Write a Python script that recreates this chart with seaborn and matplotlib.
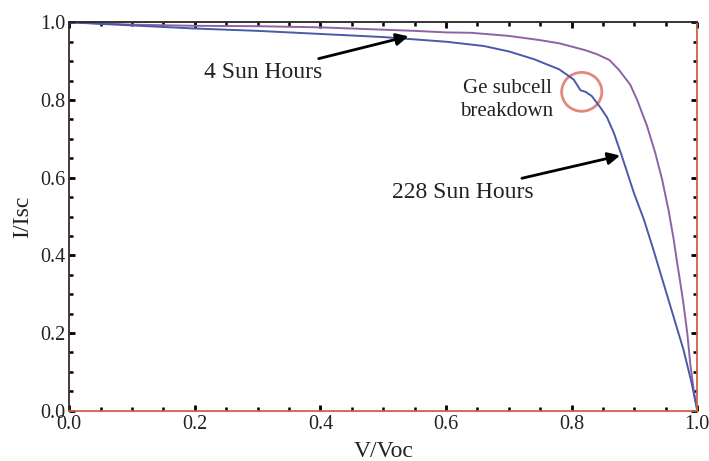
import matplotlib
matplotlib.use("Agg")
import matplotlib.pyplot as plt
from matplotlib.patches import Ellipse
from matplotlib.ticker import MultipleLocator
import seaborn as sns
import numpy as np
import pandas as pd

# I-V curves (normalised)
v_4h = [0.0, 0.05, 0.10, 0.20, 0.30, 0.40, 0.45, 0.50, 0.55, 0.60, 0.64, 0.70,
        0.75, 0.78, 0.82, 0.84, 0.86, 0.875, 0.893, 0.904, 0.92, 0.933, 0.944,
        0.954, 0.962, 0.968, 0.973, 0.978, 0.984, 0.989, 0.995, 1.0]
i_4h = [1.000, 0.997, 0.994, 0.991, 0.990, 0.987, 0.984, 0.981, 0.978, 0.974,
        0.973, 0.965, 0.954, 0.946, 0.929, 0.918, 0.903, 0.878, 0.840, 0.801,
        0.733, 0.664, 0.595, 0.518, 0.445, 0.380, 0.329, 0.275, 0.200, 0.118,
        0.045, 0.0]

v_228h = [0.0, 0.05, 0.10, 0.20, 0.30, 0.40, 0.45, 0.50, 0.55, 0.60, 0.66,
          0.70, 0.74, 0.78, 0.803, 0.814, 0.822, 0.832, 0.846, 0.856, 0.867,
          0.880, 0.899, 0.915, 0.93, 0.946, 0.962, 0.978, 0.991, 1.0]
i_228h = [1.000, 0.996, 0.992, 0.984, 0.978, 0.970, 0.966, 0.962, 0.956, 0.950,
          0.939, 0.925, 0.905, 0.879, 0.853, 0.825, 0.821, 0.810, 0.780, 0.756,
          0.716, 0.655, 0.561, 0.492, 0.415, 0.329, 0.243, 0.157, 0.071, 0.0]

sns.set_style("ticks")
plt.rcParams['font.family'] = ['Liberation Serif', 'DejaVu Serif']

fig = plt.figure(figsize=(7.09, 4.61), dpi=100)
ax = fig.add_axes([0.0977, 0.1091, 0.9835 - 0.0977, 0.9516 - 0.1091])

df4 = pd.DataFrame({'V': v_4h, 'I': i_4h})
df228 = pd.DataFrame({'V': v_228h, 'I': i_228h})
sns.lineplot(data=df4, x='V', y='I', ax=ax, color='#8f62a6', linewidth=1.4,
             sort=False, estimator=None)
sns.lineplot(data=df228, x='V', y='I', ax=ax, color='#4a5aa8', linewidth=1.4,
             sort=False, estimator=None)

ax.set_xlim(0, 1)
ax.set_ylim(0, 1)
ax.xaxis.set_major_locator(MultipleLocator(0.2))
ax.yaxis.set_major_locator(MultipleLocator(0.2))
ax.xaxis.set_minor_locator(MultipleLocator(0.05))
ax.yaxis.set_minor_locator(MultipleLocator(0.05))
ax.xaxis.set_major_formatter(lambda v, p: f"{v:.1f}")
ax.yaxis.set_major_formatter(lambda v, p: f"{v:.1f}")
ax.tick_params(which='both', direction='in', top=True, right=True,
               color='black', labelsize=14.5, labelcolor='#222222')
ax.tick_params(which='major', length=4, width=2, pad=3)
ax.tick_params(which='minor', length=3, width=1.8)

ax.spines['left'].set_color('#3a2a28')
ax.spines['top'].set_color('#2a2222')
ax.spines['bottom'].set_color('#d06048')
ax.spines['right'].set_color('#d06048')
for s in ax.spines.values():
    s.set_linewidth(1.3)

ax.set_xlabel('V/Voc', fontsize=17, color='#222222', labelpad=5)
ax.set_ylabel('I/Isc', fontsize=17, color='#222222', labelpad=5)

# annotations
arrow = dict(arrowstyle='-|>', color='black', lw=2, mutation_scale=18,
             shrinkA=0, shrinkB=0)
ax.annotate('4 Sun Hours', xy=(0.540, 0.964), xytext=(0.309, 0.871),
            ha='center', va='center', fontsize=17, color='#222222',
            arrowprops=arrow)
ax.annotate('228 Sun Hours', xy=(0.877, 0.657), xytext=(0.626, 0.563),
            ha='center', va='center', fontsize=17, color='#222222',
            arrowprops=arrow)
ax.text(0.697, 0.800, 'Ge subcell\nbreakdown', ha='center', va='center',
        fontsize=15, color='#222222', linespacing=1.25)
ax.add_patch(Ellipse((0.816, 0.821), 0.064, 0.100, fill=False,
                     edgecolor='#e08a7c', linewidth=2))

fig.savefig('out.png', dpi=100)
